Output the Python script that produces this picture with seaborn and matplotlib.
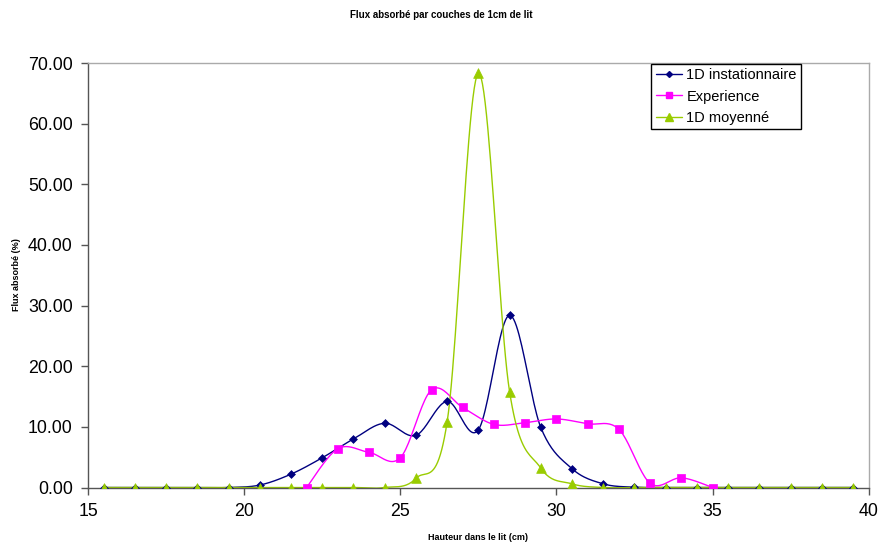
#!/usr/bin/env python3
"""Flux absorbé par couches de 1cm de lit - recreated with seaborn."""

import numpy as np
import pandas as pd
import matplotlib
matplotlib.use("Agg")
import matplotlib.pyplot as plt
from matplotlib.lines import Line2D
import seaborn as sns

# --- data ---
x_inst = [15.5, 16.5, 17.5, 18.5, 19.5, 20.5, 21.5, 22.5, 23.5, 24.5, 25.5, 26.5, 27.5,
          28.5, 29.5, 30.5, 31.5, 32.5, 33.5, 34.5, 35.5, 36.5, 37.5, 38.5, 39.5]
y_inst = [0.0, 0.0, 0.0, 0.0, 0.0, 0.4, 2.2, 4.9, 8.0, 10.6, 8.6, 14.2, 9.5,
          28.4, 9.9, 3.1, 0.6, 0.05, 0.0, 0.0, 0.0, 0.0, 0.0, 0.0, 0.0]

x_exp = [22, 23, 24, 25, 26, 27, 28, 29, 30, 31, 32, 33, 34, 35]
y_exp = [0.0, 6.4, 5.8, 4.9, 16.1, 13.2, 10.4, 10.7, 11.3, 10.5, 9.6, 0.7, 1.6, 0.0]

x_moy = x_inst
y_moy = [0.0, 0.0, 0.0, 0.0, 0.0, 0.0, 0.0, 0.0, 0.0, 0.0, 1.5, 10.8, 68.3,
         15.8, 3.2, 0.6, 0.0, 0.0, 0.0, 0.0, 0.0, 0.0, 0.0, 0.0, 0.0]

labels = ["1D instationnaire", "Experience", "1D moyenné"]
colors = ["#000080", "#FF00FF", "#99CC00"]
markers = ["D", "s", "^"]
marker_sizes = [4, 6, 7]

x_ticks = [15, 20, 25, 30, 35, 40]
y_ticks = [0, 10, 20, 30, 40, 50, 60, 70]


def smooth_curve(x, y, n=24):
    """Excel-like smoothed line (Catmull-Rom style Bezier through the points)."""
    pts = np.column_stack([x, y]).astype(float)
    out = [pts[0]]
    t = np.linspace(0, 1, n)[1:, None]
    for i in range(len(pts) - 1):
        p0 = pts[i - 1] if i > 0 else pts[i]
        p1, p2 = pts[i], pts[i + 1]
        p3 = pts[i + 2] if i + 2 < len(pts) else pts[i + 1]
        c1 = p1 + (p2 - p0) / 6.0
        c2 = p2 - (p3 - p1) / 6.0
        seg = ((1 - t) ** 3) * p1 + 3 * ((1 - t) ** 2) * t * c1 \
            + 3 * (1 - t) * t ** 2 * c2 + t ** 3 * p2
        out.extend(seg)
    out = np.array(out)
    return out[:, 0], out[:, 1]


sns.set_style("white")
plt.rcParams["font.family"] = ["Liberation Sans", "DejaVu Sans"]
plt.rcParams["text.color"] = "black"

fig = plt.figure(figsize=(8.82, 5.49), dpi=100)
ax = fig.add_axes([88 / 882, 61.5 / 549, 780.7 / 882, 424.5 / 549])

series = [(x_inst, y_inst), (x_exp, y_exp), (x_moy, y_moy)]
for (xs, ys), lab, col, mk, ms in zip(series, labels, colors, markers, marker_sizes):
    sx, sy = smooth_curve(xs, ys)
    curve = pd.DataFrame({"x": sx, "y": sy})
    sns.lineplot(data=curve, x="x", y="y", color=col, linewidth=1.0,
                 sort=False, estimator=None, ax=ax)
    pts = pd.DataFrame({"x": xs, "y": ys})
    sns.scatterplot(data=pts, x="x", y="y", color=col, marker=mk, s=ms ** 2,
                    edgecolor=col, linewidth=0.5, ax=ax, zorder=3)

ax.set_xlim(15, 40)
ax.set_ylim(0, 70)
ax.set_xticks(x_ticks)
ax.set_yticks(y_ticks)
ax.set_yticklabels([f"{v:.2f}" for v in y_ticks])
ax.tick_params(axis="both", direction="out", length=5, width=1, color="#555555",
               labelsize=12.8, labelcolor="black", pad=6, bottom=True, left=True)
ax.set_xlabel("")
ax.set_ylabel("")

for side in ["left", "bottom"]:
    ax.spines[side].set_color("#555555")
    ax.spines[side].set_linewidth(1.0)
for side in ["top", "right"]:
    ax.spines[side].set_color("#AAAAAA")
    ax.spines[side].set_linewidth(1.0)

handles = [Line2D([0], [0], color=c, marker=m, markersize=ms * 0.75, linewidth=1.0)
           for c, m, ms in zip(colors, markers, marker_sizes)]
leg = ax.legend(handles, labels, loc="upper right", bbox_to_anchor=(0.9135, 0.998),
                fontsize=10.5, frameon=True, fancybox=False, framealpha=1,
                edgecolor="black", borderpad=0.3, labelspacing=0.5,
                handlelength=1.8, handletextpad=0.3, borderaxespad=0)
leg.get_frame().set_linewidth(1.0)
for txt in leg.get_texts():
    txt.set_color("black")

fig.text(441 / 882, 1 - 15 / 549, "Flux absorbé par couches de 1cm de lit",
         ha="center", va="center", fontsize=7, fontweight="bold")
fig.text(478 / 882, 1 - 537 / 549, "Hauteur dans le lit (cm)",
         ha="center", va="center", fontsize=6.5, fontweight="bold")
fig.text(17 / 882, 1 - 275 / 549, "Flux absorbé (%)", rotation=90,
         ha="center", va="center", fontsize=6.5, fontweight="bold")

fig.savefig("out.png", dpi=100)
plt.close(fig)
